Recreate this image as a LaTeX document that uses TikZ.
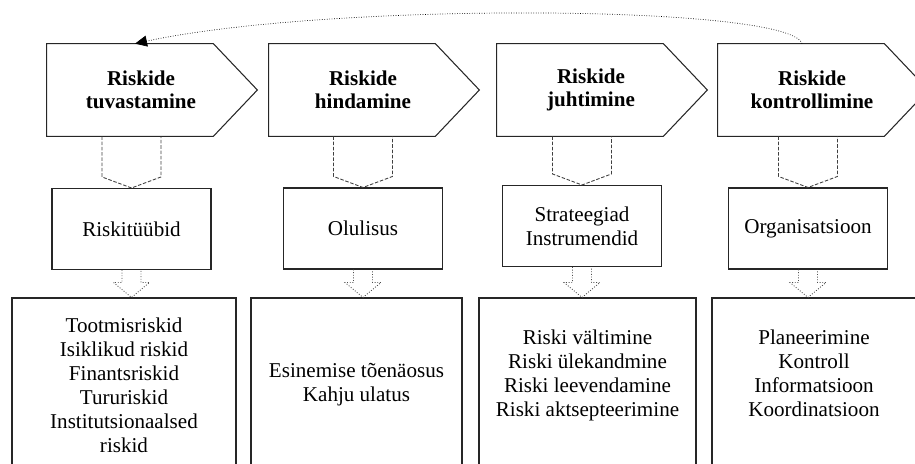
\documentclass[tikz,border=0pt]{standalone}
\usepackage{fontspec}
\setmainfont{Liberation Serif}
\usetikzlibrary{arrows.meta,calc}

\begin{document}
\begin{tikzpicture}[>=Latex,x=1cm,y=1cm,
  stage/.style={minimum width=3.76cm,minimum height=1.78cm,inner sep=0pt,align=center,font=\bfseries\fontsize{12}{13.1}\selectfont},
  box/.style={draw=black!85,line width=0.6pt,inner sep=0pt,align=center,font=\fontsize{12}{13.7}\selectfont},
  midbox/.style={box,minimum width=3.18cm,minimum height=1.62cm},
  listbox/.style={box,minimum height=3.48cm},
  outline/.style={draw=black!85,line width=0.6pt},
  flowa/.style={draw=black!75,line width=0.5pt,dash pattern=on 2pt off 1pt},
  flowb/.style={draw=black!70,line width=0.5pt,densely dotted}]
\useasboundingbox (0,0) rectangle (18.3,-9.28);
\clip (0,0) rectangle (18.3,-9.28);
\node[stage] (s1) at (2.82,-1.80) {Riskide\\tuvastamine};
\node[stage] (s2) at (7.26,-1.80) {Riskide\\hindamine};
\node[stage] (s3) at (11.82,-1.80) {Riskide\\juhtimine};
\node[stage] (s4) at (16.24,-1.80) {Riskide\\kontrollimine};
\foreach \i in {1,...,4}
  \draw[outline] ([yshift=0.03cm]s\i.north west) -- ([xshift=-0.44cm,yshift=0.03cm]s\i.north east) -- ([xshift=0.44cm]s\i.east) -- ([xshift=-0.44cm,yshift=-0.03cm]s\i.south east) -- ([yshift=-0.03cm]s\i.south west) -- cycle;
\node[midbox] (m1) at (2.63,-4.58) {Riskitüübid};
\node[midbox] (m2) at (7.26,-4.57) {Olulisus};
\node[midbox] (m3) at (11.64,-4.52) {Strateegiad\\Instrumendid};
\node[midbox] (m4) at (16.16,-4.57) {Organisatsioon};
\node[listbox,minimum width=4.48cm] (b1) at (2.48,-7.70) {Tootmisriskid\\Isiklikud riskid\\Finantsriskid\\Tururiskid\\Institutsionaalsed\\riskid};
\node[listbox,minimum width=4.22cm] (b2) at (7.13,-7.70) {Esinemise tõenäosus\\Kahju ulatus};
\node[listbox,minimum width=4.34cm] (b3) at (11.75,-7.70) {Riski vältimine\\Riski ülekandmine\\Riski leevendamine\\Riski aktsepteerimine\\\mbox{}};
\node[listbox,minimum width=4.08cm] (b4) at (16.28,-7.70) {Planeerimine\\Kontroll\\Informatsioon\\Koordinatsioon\\\mbox{}};
\foreach \i in {1,...,4}{
  \draw[flowa] ($(m\i.north |- s\i.south)+(-0.59,-0.03)$) -- ($(m\i.north)+(-0.59,0.22)$) -- (m\i.north) -- ($(m\i.north)+(0.59,0.22)$) -- ($(m\i.north |- s\i.south)+(0.59,-0.03)$);
  \coordinate (t\i) at (m\i.south |- b\i.north);
  \draw[flowb] ($(m\i.south)+(-0.19,0)$) -- ($(t\i)+(-0.19,0.30)$) -- ($(t\i)+(-0.36,0.30)$) -- (t\i) -- ($(t\i)+(0.36,0.30)$) -- ($(t\i)+(0.19,0.30)$) -- ($(m\i.south)+(0.19,0)$);
}
\draw[densely dotted,-{Triangle[length=2.4mm,width=2.2mm]}] ([xshift=-0.2cm,yshift=0.03cm]s4.north) .. controls +(-0.24,0.78) and +(3.9,0.84) .. ([xshift=-0.12cm,yshift=0.03cm]s1.north);
\end{tikzpicture}
\end{document}
